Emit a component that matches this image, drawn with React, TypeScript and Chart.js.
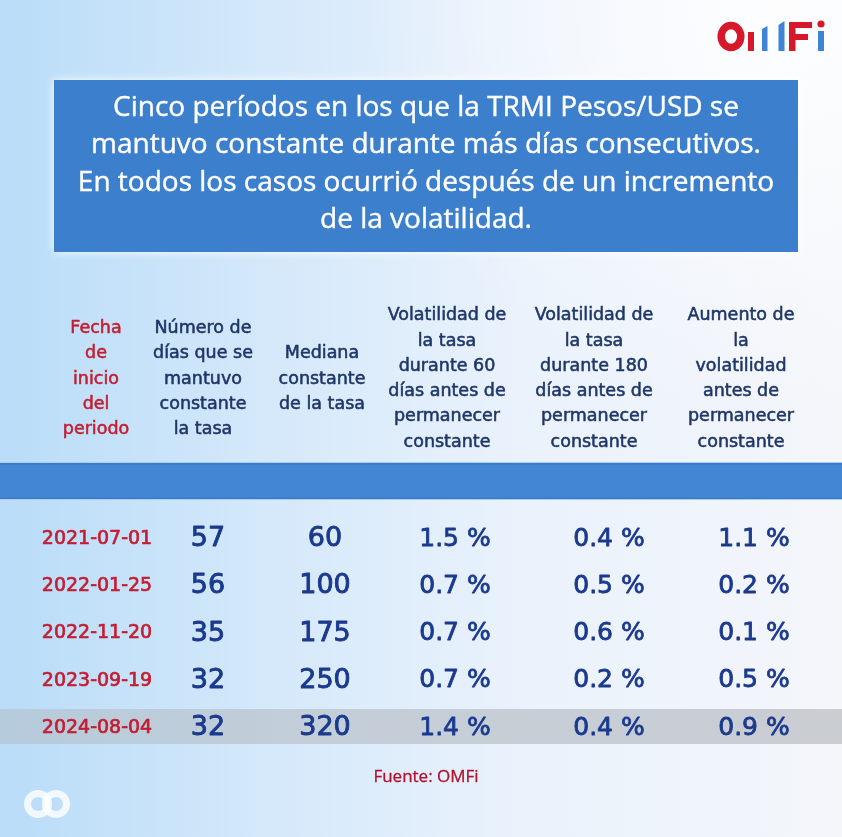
import React, { useEffect, useRef } from 'react';
import { Chart, registerables } from 'chart.js';

Chart.register(...registerables);

// ---------- data ----------
const fechas = ['2021-07-01', '2022-01-25', '2022-11-20', '2023-09-19', '2024-08-04'];
const diasConstante = [57, 56, 35, 32, 32];
const medianaTasa = [60, 100, 175, 250, 320];
const vol60 = [1.5, 0.7, 0.7, 0.7, 1.4];
const vol180 = [0.4, 0.5, 0.6, 0.2, 0.4];
const aumentoVol = [1.1, 0.2, 0.1, 0.5, 0.9];

const encabezados = [
  ['Fecha', 'de', 'inicio', 'del', 'periodo'],
  ['Número de', 'días que se', 'mantuvo', 'constante', 'la tasa'],
  ['Mediana', 'constante', 'de la tasa'],
  ['Volatilidad de', 'la tasa', 'durante 60', 'días antes de', 'permanecer', 'constante'],
  ['Volatilidad de', 'la tasa', 'durante 180', 'días antes de', 'permanecer', 'constante'],
  ['Aumento de', 'la', 'volatilidad', 'antes de', 'permanecer', 'constante'],
];

const titulo = [
  'Cinco períodos en los que la TRMI Pesos/USD se',
  'mantuvo constante durante más días consecutivos.',
  'En todos los casos ocurrió después de un incremento',
  'de la volatilidad.',
];
const fuente = 'Fuente: OMFi';
const filaDestacada = 4;

// ---------- layout ----------
const W = 842;
const H = 837;
const colWidths = [124, 98, 136, 124, 184, 106];
const tableMargin = 35;
const headerShift = [-1, -5, -3, -8, -15, -13];
const rowTop = 538;
const rowBottom = 727;
const headerCenterY = 379;
const headerLineH = 25.3;

const RED = '#c41e32';
const NAVY_HEAD = '#1f3768';
const NAVY_DATA = '#1b3a8e';

const totalWidth = tableMargin * 2 + colWidths.reduce((a, b) => a + b, 0);
const colCenter = (c: number) => {
  let x = tableMargin;
  for (let i = 0; i < c; i++) x += colWidths[i];
  return x + colWidths[c] / 2;
};

const pct = (v: number) => `${v.toFixed(1)} %`;

const columnas: { values: (string | number)[]; fmt: (v: any) => string; font: string; color: string; stroke: number }[] = [
  { values: fechas, fmt: (v) => String(v), font: '19px "DejaVu Sans"', color: RED, stroke: 0.7 },
  { values: diasConstante, fmt: (v) => String(v), font: '27px "DejaVu Sans"', color: NAVY_DATA, stroke: 0.9 },
  { values: medianaTasa, fmt: (v) => String(v), font: '27px "DejaVu Sans"', color: NAVY_DATA, stroke: 0.9 },
  { values: vol60, fmt: pct, font: '25px "DejaVu Sans"', color: NAVY_DATA, stroke: 0.8 },
  { values: vol180, fmt: pct, font: '25px "DejaVu Sans"', color: NAVY_DATA, stroke: 0.8 },
  { values: aumentoVol, fmt: pct, font: '25px "DejaVu Sans"', color: NAVY_DATA, stroke: 0.8 },
];

function drawBackground(ctx: CanvasRenderingContext2D) {
  const g = ctx.createLinearGradient(0, 0, W, 0);
  g.addColorStop(0, '#b9dcf8');
  g.addColorStop(0.3, '#d3e8fa');
  g.addColorStop(0.62, '#eaf2fc');
  g.addColorStop(1, '#f4f6fa');
  ctx.fillStyle = g;
  ctx.fillRect(0, 0, W, H);
  const r = ctx.createRadialGradient(780, 0, 10, 780, 0, 420);
  r.addColorStop(0, 'rgba(255,255,255,0.85)');
  r.addColorStop(1, 'rgba(255,255,255,0)');
  ctx.fillStyle = r;
  ctx.fillRect(0, 0, W, H);
}

function drawLogo(ctx: CanvasRenderingContext2D) {
  const red = '#d7182a';
  const blue = '#3d84d6';
  ctx.save();
  ctx.strokeStyle = red;
  ctx.lineWidth = 7.5;
  ctx.beginPath();
  ctx.ellipse(731, 36.5, 9.8, 11, 0, 0, Math.PI * 2);
  ctx.stroke();
  ctx.fillStyle = red;
  ctx.fillRect(748, 32, 6, 19);
  ctx.fillStyle = blue;
  ctx.beginPath();
  ctx.moveTo(762, 29); ctx.lineTo(767.5, 26); ctx.lineTo(767.5, 51); ctx.lineTo(762, 51); ctx.closePath();
  ctx.fill();
  ctx.beginPath();
  ctx.moveTo(778.5, 25); ctx.lineTo(784.5, 21); ctx.lineTo(784.5, 51); ctx.lineTo(778.5, 51); ctx.closePath();
  ctx.fill();
  ctx.fillStyle = red;
  ctx.fillRect(789, 22, 6.5, 29);
  ctx.fillRect(789, 22, 23, 6);
  ctx.fillRect(789, 34, 19, 6);
  ctx.fillStyle = blue;
  ctx.fillRect(818, 31, 6, 20);
  ctx.fillStyle = red;
  ctx.beginPath();
  ctx.arc(821, 24, 3.6, 0, Math.PI * 2);
  ctx.fill();
  ctx.restore();
}

function drawWatermark(ctx: CanvasRenderingContext2D) {
  ctx.save();
  ctx.strokeStyle = 'rgba(255,255,255,0.8)';
  ctx.lineWidth = 7;
  ctx.beginPath();
  ctx.arc(38, 804, 10.5, 0, Math.PI * 2);
  ctx.stroke();
  ctx.beginPath();
  ctx.arc(56, 804, 10.5, 0, Math.PI * 2);
  ctx.stroke();
  ctx.restore();
}

function boldText(ctx: CanvasRenderingContext2D, t: string, x: number, y: number, w: number) {
  ctx.fillText(t, x, y);
  if (w > 0) {
    ctx.lineWidth = w;
    ctx.strokeStyle = ctx.fillStyle as string;
    ctx.lineJoin = 'round';
    ctx.strokeText(t, x, y);
  }
}

const tablePlugin = {
  id: 'tablePlugin',
  beforeDraw(chart: any) {
    const ctx: CanvasRenderingContext2D = chart.ctx;
    const xs = chart.scales.x;
    const ys = chart.scales.y;
    ctx.save();
    drawBackground(ctx);
    drawLogo(ctx);

    // title box
    ctx.save();
    ctx.shadowColor = 'rgba(255,255,255,0.95)';
    ctx.shadowBlur = 8;
    ctx.fillStyle = '#3c7fcc';
    ctx.fillRect(54, 80, 744, 172);
    ctx.restore();
    ctx.fillStyle = '#ffffff';
    ctx.font = '28px "Open Sans"';
    ctx.textAlign = 'center';
    ctx.textBaseline = 'middle';
    titulo.forEach((t, i) => boldText(ctx, t, 426, 108 + i * 37.3, 0.4));

    // headers
    ctx.font = '17.5px "DejaVu Sans"';
    encabezados.forEach((lines, c) => {
      const x = xs.getPixelForValue(colCenter(c)) + headerShift[c];
      const y0 = headerCenterY - ((lines.length - 1) / 2) * headerLineH;
      ctx.fillStyle = c === 0 ? RED : NAVY_HEAD;
      lines.forEach((l, i) => boldText(ctx, l, x, y0 + i * headerLineH, 0.55));
    });

    // blue band
    ctx.fillStyle = '#a8cff3';
    ctx.fillRect(0, 462, W, 38);
    ctx.fillStyle = '#3c7bc6';
    ctx.fillRect(0, 463, W, 36);
    ctx.fillStyle = '#4386d4';
    ctx.fillRect(0, 464.5, W, 33);

    // highlighted row
    const yr = ys.getPixelForValue(filaDestacada);
    const hg = ctx.createLinearGradient(0, 0, W, 0);
    hg.addColorStop(0, '#b6cbdc');
    hg.addColorStop(0.4, '#c4ced8');
    hg.addColorStop(1, '#cacdd2');
    ctx.fillStyle = hg;
    ctx.fillRect(0, yr - 18, W, 35);

    // footer
    ctx.fillStyle = '#b3122b';
    ctx.font = '17px "Open Sans"';
    boldText(ctx, fuente, 426, 777, 0.3);
    drawWatermark(ctx);
    ctx.restore();
  },
  afterDatasetsDraw(chart: any) {
    const ctx: CanvasRenderingContext2D = chart.ctx;
    ctx.save();
    ctx.textAlign = 'center';
    ctx.textBaseline = 'middle';
    chart.data.datasets.forEach((ds: any, c: number) => {
      const meta = chart.getDatasetMeta(c);
      const col = columnas[c];
      ctx.font = col.font;
      ctx.fillStyle = col.color;
      meta.data.forEach((el: any, i: number) => {
        boldText(ctx, col.fmt(ds.data[i].v), el.x, el.y + 1, col.stroke);
      });
    });
    ctx.restore();
  },
};

export default function App() {
  const ref = useRef<HTMLCanvasElement | null>(null);
  useEffect(() => {
    document.body.style.margin = '0';
    const canvas = ref.current;
    if (!canvas) return;
    const datasets = columnas.map((col, c) => ({
      label: encabezados[c].join(' '),
      data: col.values.map((v, i) => ({ x: colCenter(c), y: i, v })),
      pointRadius: 0,
      pointHoverRadius: 0,
      showLine: false,
    }));
    const chart = new Chart(canvas, {
      type: 'scatter',
      data: { datasets } as any,
      options: {
        animation: false,
        responsive: false,
        maintainAspectRatio: false,
        devicePixelRatio: 1,
        events: [],
        layout: { padding: { top: rowTop, bottom: H - rowBottom, left: 0, right: 0 } },
        scales: {
          x: { type: 'linear', display: false, min: 0, max: totalWidth },
          y: { type: 'linear', display: false, min: 0, max: fechas.length - 1, reverse: true },
        },
        plugins: { legend: { display: false }, tooltip: { enabled: false } },
      },
      plugins: [tablePlugin],
    });
    return () => chart.destroy();
  }, []);
  return (
    <canvas ref={ref} width={W} height={H} style={{ display: 'block', width: W, height: H }} />
  );
}
